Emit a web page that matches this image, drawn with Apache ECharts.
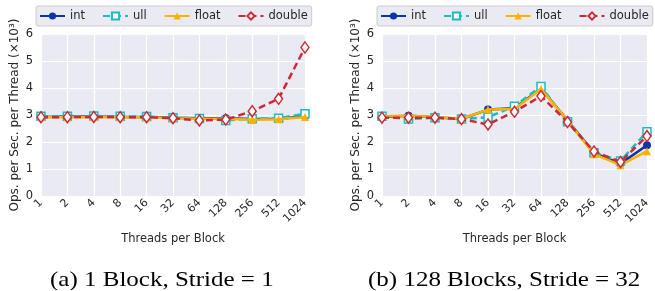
<!DOCTYPE html>
<html>
<head>
<meta charset="utf-8">
<script src="https://cdn.jsdelivr.net/npm/echarts@6/dist/echarts.min.js"></script>
<style>
  html, body { margin: 0; padding: 0; background: #fff; }
  #chart { width: 655px; height: 291px; }
</style>
</head>
<body>
<div id="chart"></div>
<script>
// threads per block
const threads = ['1', '2', '4', '8', '16', '32', '64', '128', '256', '512', '1024']
const yTicks = [0, 1, 2, 3, 4, 5, 6]

// (a) 1 Block, Stride = 1
const aInt = [2.93, 2.94, 2.94, 2.93, 2.93, 2.9, 2.88, 2.88, 2.85, 2.86, 2.95]
const aUll = [2.95, 2.95, 2.96, 2.95, 2.94, 2.9, 2.87, 2.8, 2.86, 2.88, 3.05]
const aFloat = [2.92, 2.92, 2.93, 2.92, 2.92, 2.88, 2.86, 2.86, 2.82, 2.84, 2.93]
const aDouble = [2.92, 2.92, 2.93, 2.92, 2.92, 2.88, 2.8, 2.83, 3.14, 3.6, 5.5]

// (b) 128 Blocks, Stride = 32
const bInt = [2.93, 2.97, 2.92, 2.85, 3.2, 3.25, 3.98, 2.8, 1.6, 1.2, 1.88]
const bUll = [2.95, 2.85, 2.9, 2.85, 2.92, 3.32, 4.06, 2.75, 1.6, 1.3, 2.38]
const bFloat = [2.95, 2.97, 2.93, 2.86, 3.2, 3.22, 3.96, 2.8, 1.55, 1.14, 1.66]
const bDouble = [2.9, 2.9, 2.9, 2.85, 2.65, 3.12, 3.7, 2.74, 1.65, 1.26, 2.22]

const captions = ['(a) 1 Block, Stride = 1', '(b) 128 Blocks, Stride = 32']

const colors = { int: '#0c36a8', ull: '#17bcc8', float: '#ffb000', double: '#cc2936' }
const names = ['int', 'ull', 'float', 'double']

function mkSeries(name, data, idx) {
  const c = colors[name]
  const dashed = name === 'ull' || name === 'double'
  const sym = { int: 'circle', ull: 'rect', float: 'triangle', double: 'diamond' }[name]
  const hollow = name === 'ull' || name === 'double'
  return {
    name: name,
    type: 'line',
    xAxisIndex: idx,
    yAxisIndex: idx,
    data: data,
    symbol: sym,
    symbolSize: name === 'double' ? [8, 11] : 8,
    showSymbol: true,
    lineStyle: { color: c, width: 2.5, type: dashed ? [7, 4] : 'solid' },
    itemStyle: { color: hollow ? '#ffffff' : c, borderColor: c, borderWidth: hollow ? 1.5 : 0 },
    z: { int: 2, ull: 3, float: 4, double: 5 }[name],
    animation: false
  }
}

const grids = [
  { left: 41, right: 350, top: 34, bottom: 95 },
  { left: 382, right: 8, top: 34, bottom: 95 }
]

function xAx(i) {
  return {
    type: 'category', gridIndex: i, data: threads, boundaryGap: false,
    name: 'Threads per Block', nameLocation: 'middle', nameGap: 37,
    nameTextStyle: { fontFamily: 'DejaVu Sans', fontSize: 11.5, color: '#262626' },
    axisLine: { show: false }, axisTick: { show: false },
    axisLabel: { rotate: 45, fontFamily: 'DejaVu Sans', fontSize: 11, color: '#262626', margin: 5, interval: 0 },
    splitLine: { show: true, lineStyle: { color: '#ffffff', width: 1.2 } }
  }
}

function yAx(i) {
  return {
    type: 'value', gridIndex: i, min: yTicks[0], max: yTicks[yTicks.length - 1], interval: 1,
    name: 'Ops. per Sec. per Thread (×10³)', nameLocation: 'middle', nameGap: 20,
    nameTextStyle: { fontFamily: 'DejaVu Sans', fontSize: 12, color: '#262626' },
    axisLine: { show: false }, axisTick: { show: false },
    axisLabel: { fontFamily: 'DejaVu Sans', fontSize: 11.5, color: '#262626', margin: 8 },
    splitLine: { show: true, lineStyle: { color: '#ffffff', width: 1.2 } }
  }
}

function leg(left) {
  return {
    data: names, left: left, top: 6, orient: 'horizontal',
    itemWidth: 25, itemHeight: 9, itemGap: 17,
    backgroundColor: '#eaeaf2', borderColor: '#cccccc', borderWidth: 1, borderRadius: 2,
    padding: [4, 4, 4, 3],
    textStyle: { fontFamily: 'DejaVu Sans', fontSize: 11.5, color: '#262626' }
  }
}

function caption(text, x) {
  return {
    type: 'text', x: x, y: 270, scaleX: 1.19, originX: 0,
    style: { text: text, font: '21px "Liberation Serif"', fill: '#000', verticalAlign: 'top' }
  }
}

const myChart = echarts.init(document.getElementById('chart'), null, { renderer: 'canvas' })
myChart.setOption({
  backgroundColor: '#ffffff',
  animation: false,
  grid: grids.map(g => Object.assign({ show: true, backgroundColor: '#eaeaf2', borderWidth: 0 }, g)),
  xAxis: [xAx(0), xAx(1)],
  yAxis: [yAx(0), yAx(1)],
  legend: [leg(36), leg(377)],
  graphic: [caption(captions[0], 50), caption(captions[1], 368)],
  series: [
    mkSeries('int', aInt, 0), mkSeries('ull', aUll, 0), mkSeries('float', aFloat, 0), mkSeries('double', aDouble, 0),
    mkSeries('int', bInt, 1), mkSeries('ull', bUll, 1), mkSeries('float', bFloat, 1), mkSeries('double', bDouble, 1)
  ]
})
</script>
</body>
</html>
